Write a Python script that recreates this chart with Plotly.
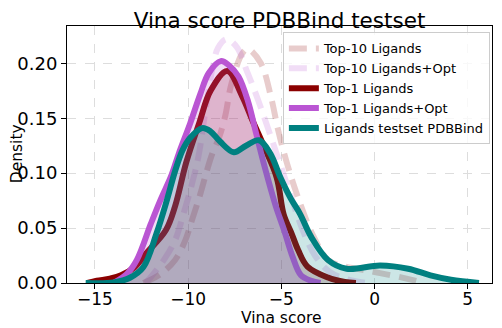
import plotly.graph_objects as go

# --- KDE curves (Vina score vs density) ---

top10_x = [-12.4, -11.5, -10.7, -10.15, -9.8, -9.35, -9.0, -8.7, -8.35, -8.0, -7.7,
           -7.1, -6.8, -6.1, -5.55, -5.17, -4.7, -4.15, -3.35, -2.5, -1.8, 0.0, 1.6, 2.7]
top10_y = [0.0, 0.008, 0.021, 0.039, 0.057, 0.081, 0.102, 0.118, 0.132, 0.153, 0.180,
           0.209, 0.213, 0.200, 0.169, 0.139, 0.109, 0.080, 0.045, 0.021, 0.016, 0.010, 0.0045, 0.0]

top10_opt_x = [-12.3, -12.0, -11.3, -10.7, -10.25, -9.8, -9.45, -9.0, -8.7, -8.4, -7.95,
               -7.4, -6.85, -6.3, -5.7, -5.1, -4.5, -3.9, -3.2, -2.4, -1.4, -0.4]
top10_opt_y = [0.0, 0.0055, 0.021, 0.039, 0.063, 0.090, 0.115, 0.165, 0.195, 0.214, 0.222,
               0.215, 0.193, 0.169, 0.140, 0.110, 0.080, 0.050, 0.025, 0.010, 0.003, 0.0]

top1_x = [-15.4, -14.9, -14.2, -13.6, -12.9, -12.2, -11.2, -10.7, -10.1, -9.4, -8.8, -7.9,
          -7.1, -6.55, -6.0, -5.25, -4.87, -4.45, -4.1, -3.6, -2.5, -1.6, -1.0]
top1_y = [0.0, 0.002, 0.004, 0.007, 0.014, 0.028, 0.048, 0.070, 0.110, 0.146, 0.175, 0.193,
          0.170, 0.148, 0.127, 0.096, 0.062, 0.045, 0.030, 0.015, 0.005, 0.001, 0.0]

top1_opt_x = [-14.0, -13.3, -12.75, -12.0, -11.5, -10.9, -10.5, -9.9, -9.35, -8.9, -8.25,
              -7.8, -7.3, -6.8, -6.35, -5.9, -5.3, -4.85, -4.4, -3.95, -3.4, -2.9]
top1_opt_y = [0.0, 0.008, 0.021, 0.054, 0.075, 0.098, 0.118, 0.145, 0.172, 0.191, 0.202,
              0.198, 0.188, 0.166, 0.136, 0.106, 0.070, 0.048, 0.024, 0.007, 0.002, 0.0]

testset_x = [-15.5, -14.0, -13.1, -12.4, -11.7, -11.15, -10.7, -10.3, -9.9, -9.25, -8.8,
             -8.3, -7.55, -6.9, -6.2, -5.6, -5.05, -4.5, -4.0, -3.4, -2.5, -1.5, 0.3,
             1.8, 3.0, 4.1, 5.6]
testset_y = [0.0, 0.0005, 0.005, 0.0145, 0.045, 0.075, 0.102, 0.121, 0.132, 0.141, 0.138,
             0.129, 0.119, 0.125, 0.130, 0.118, 0.096, 0.077, 0.063, 0.042, 0.021, 0.013,
             0.016, 0.013, 0.007, 0.003, 0.0]

FONT = "DejaVu Sans"

series = [
    # name, x, y, line colour, dash, fill colour
    ("Top-10 Ligands", top10_x, top10_y, "rgba(139,0,0,0.2)", "18px,9px", None),
    ("Top-10 Ligands+Opt", top10_opt_x, top10_opt_y, "rgba(186,85,211,0.2)", "18px,9px", None),
    ("Top-1 Ligands", top1_x, top1_y, "#8b0000", "solid", "rgba(139,0,0,0.2)"),
    ("Top-1 Ligands+Opt", top1_opt_x, top1_opt_y, "#ba55d3", "solid", "rgba(186,85,211,0.2)"),
    ("Ligands testset PDBBind", testset_x, testset_y, "#008080", "solid", "rgba(0,128,128,0.2)"),
]

fig = go.Figure()
for name, xs, ys, color, dash, fillc in series:
    if fillc:
        fig.add_trace(go.Scatter(x=xs, y=ys, mode="lines", fill="tozeroy",
                                 fillcolor=fillc, line=dict(width=0, shape="spline"),
                                 showlegend=False, hoverinfo="skip"))
    fig.add_trace(go.Scatter(x=xs, y=ys, mode="lines", name=name,
                             line=dict(color=color, width=6, dash=dash, shape="spline")))

axis_common = dict(
    showline=True, linecolor="black", linewidth=1, mirror=True,
    ticks="outside", ticklen=5, tickcolor="black", automargin=False,
    showgrid=True, gridcolor="#dddddd", griddash="dash", gridwidth=1,
    zeroline=False,
)

fig.update_xaxes(range=[-16.5, 6.3], tickvals=[-15, -10, -5, 0, 5],
                 ticklabelstandoff=-4, tickfont=dict(family=FONT, size=17, color="black"),
                 **axis_common)
fig.update_yaxes(range=[0, 0.234], tickvals=[0, 0.05, 0.1, 0.15, 0.2], tickformat=".2f",
                 tickfont=dict(family=FONT, size=18, color="black"), **axis_common)

# axis titles as annotations so they sit where the reference has them
label_font = dict(family=FONT, size=15.5, color="black")
fig.add_annotation(text="Vina score", xref="paper", yref="paper", x=0.504, y=-0.137,
                   xanchor="center", yanchor="middle", showarrow=False, font=label_font)
fig.add_annotation(text="Density", xref="paper", yref="paper", x=-0.117, y=0.502,
                   xanchor="center", yanchor="middle", textangle=-90, showarrow=False,
                   font=label_font)

# the page body adds an 8px margin, so the figure is sized to fit what remains
fig.update_layout(
    width=494, height=320,
    margin=dict(l=59, r=10, t=18, b=45),
    paper_bgcolor="white", plot_bgcolor="white",
    font=dict(family=FONT, color="black"),
    title=dict(text="Vina score PDBBind testset", font=dict(family=FONT, size=21.5, color="black"),
               x=0.5, xref="paper", xanchor="center", y=0.9625, yref="container", yanchor="middle"),
    legend=dict(x=0.995, y=0.975, xanchor="right", yanchor="top",
                bgcolor="rgba(255,255,255,0.8)", bordercolor="#cccccc", borderwidth=1,
                font=dict(family=FONT, size=13, color="black"), tracegroupgap=0),
)

fig.write_html("out.html")
